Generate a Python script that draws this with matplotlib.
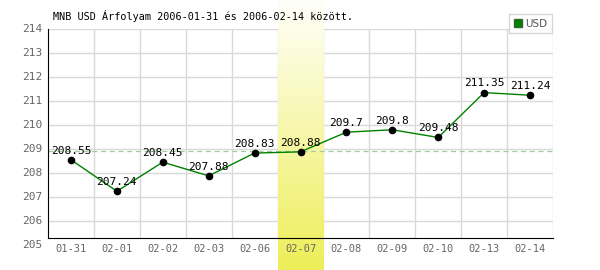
import numpy as np
import matplotlib
matplotlib.use("Agg")
import matplotlib.pyplot as plt
from matplotlib.lines import Line2D
import matplotlib.transforms as mtransforms

dates = ["01-31", "02-01", "02-02", "02-03", "02-06", "02-07",
         "02-08", "02-09", "02-10", "02-13", "02-14"]
usd = [208.55, 207.24, 208.45, 207.88, 208.83, 208.88,
       209.7, 209.8, 209.48, 211.35, 211.24]
y_ticks = [205, 206, 207, 208, 209, 210, 211, 212, 213, 214]
ref_level = 208.92
highlight = "02-07"
title = "MNB USD Árfolyam 2006-01-31 és 2006-02-14 között."

mono = "DejaVu Sans Mono"
fig = plt.figure(figsize=(6, 2.7), dpi=100)
fig.patch.set_facecolor("white")
ax_h = (238 - 29) / 270
ax = fig.add_axes([48/600, 32/270, 505/600, ax_h])

n = len(dates)
x = np.arange(n)
ylo, yhi = 205.29, 214.0
span = yhi - ylo

# highlight band with vertical gradient, full figure height
hi = dates.index(highlight)
grad = np.linspace(0, 1, 256).reshape(-1, 1)
top_c = np.array([255, 255, 250]) / 255
bot_c = np.array([238, 238, 88]) / 255
img = top_c[None, None, :] * (1 - grad[:, :, None]) + bot_c[None, None, :] * grad[:, :, None]
bottom_ext = ylo - (32/270) / ax_h * span
top_ext = yhi + (29/270) / ax_h * span
ax.imshow(img, extent=(hi - 0.5, hi + 0.5, bottom_ext, top_ext), aspect="auto",
          zorder=1.5, clip_on=False, interpolation="bilinear")

ax.set_xlim(-0.5, n - 0.5)
ax.set_ylim(ylo, yhi)

# grid
for v in y_ticks:
    if ylo < v <= yhi:
        ax.axhline(v, color="#d9d9d9", lw=1, zorder=1)
for b in np.arange(0.5, n, 1.0):
    ax.axvline(b, color="#d9d9d9", lw=1, zorder=1)

ax.axhline(ref_level, color="#9fcf9f", lw=0.9, ls=(0, (4, 3)), zorder=2)

ax.plot(x, usd, color="#008000", lw=1, zorder=3)
ax.plot(x, usd, "o", color="black", ms=4.5, zorder=4)
for xi, v in zip(x, usd):
    ax.annotate(f"{v:g}", (xi, v), xytext=(0, 3), textcoords="offset points",
                ha="center", va="bottom", fontsize=8, family=mono, color="black", zorder=5)

for s in ["top", "right"]:
    ax.spines[s].set_visible(False)
ax.spines["left"].set_color("black")
ax.spines["bottom"].set_color("black")
ax.spines["left"].set_zorder(6)
ax.spines["bottom"].set_zorder(6)

ax.set_xticks(x)
ax.set_xticklabels(dates, family=mono, fontsize=7.5, color="#666666")
ax.tick_params(axis="x", length=0, pad=4)
ax.set_yticks([])

trans = mtransforms.blended_transform_factory(ax.transAxes, ax.transData)
for v in y_ticks:
    ax.text(-0.012, v, str(v), transform=trans, ha="right", va="center",
            fontsize=8, family=mono, color="#666666", clip_on=False)

fig.text(53/600, 1 - 16/270, title, family=mono, fontsize=7.3, color="black",
         ha="left", va="center", zorder=10)

handle = Line2D([], [], marker="s", ls="", color="#008000", markeredgecolor="#336633",
                markersize=6)
leg = fig.legend([handle], ["USD"], loc="upper right",
                 bbox_to_anchor=(552/600, 1 - 14/270), frameon=True, fancybox=False,
                 edgecolor="#cccccc", fontsize=7.5, handlelength=0.8, handletextpad=0.3,
                 borderpad=0.45, borderaxespad=0)
for t in leg.get_texts():
    t.set_color("#555555")
leg.get_frame().set_linewidth(1)

fig.savefig("out.png", dpi=100)
